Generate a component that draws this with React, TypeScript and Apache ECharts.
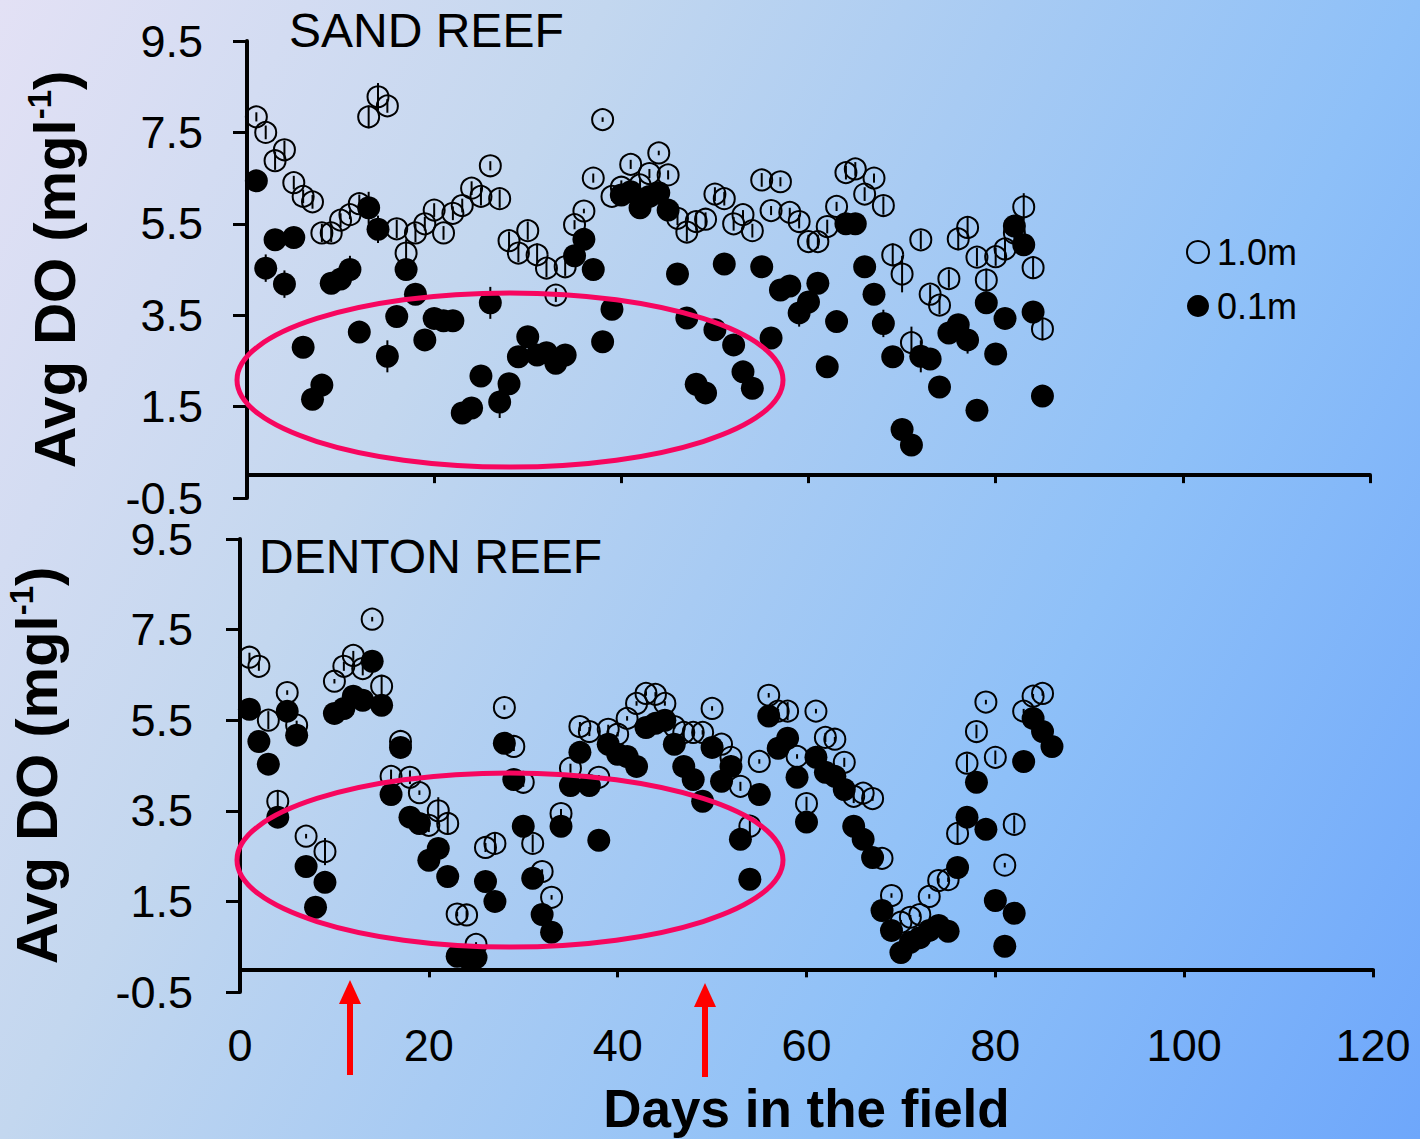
import React, { useEffect, useRef } from "react";
import * as echarts from "echarts";

// ---- Sand Reef: daily average dissolved oxygen (mg/l) ----
const sandDays = [
  1, 2, 3, 4, 5, 6, 7, 8, 9, 10, 11, 12, 13, 14, 15, 16, 17, 18, 19, 20,
  21, 22, 23, 24, 25, 26, 27, 28, 29, 30, 31, 32, 33, 34, 35, 36, 37, 38, 39, 40,
  41, 42, 43, 44, 45, 46, 47, 48, 49, 50, 51, 52, 53, 54, 55, 56, 57, 58, 59, 60,
  61, 62, 63, 64, 65, 66, 67, 68, 69, 70, 71, 72, 73, 74, 75, 76, 77, 78, 79, 80,
  81, 82, 83, 84, 85,
];
const sandDeep = [
  7.84, 7.5, 6.88, 7.12, 6.4, 6.1, 5.98, 5.3, 5.3, 5.58,
  5.7, 5.94, 7.84, 8.28, 8.08, 5.39, 4.86, 5.3, 5.5, 5.8,
  5.3, 5.73, 5.9, 6.28, 6.1, 6.77, 6.05, 5.13, 4.86, 5.35,
  4.82, 4.53, 3.94, 4.56, 5.48, 5.78, 6.5, 7.78, 6.1, 6.3,
  6.8, 6.35, 6.6, 7.05, 6.57, 5.62, 5.32, 5.55, 5.6, 6.15,
  6.05, 5.5, 5.7, 5.35, 6.46, 5.79, 6.42, 5.75, 5.55, 5.11,
  5.11, 5.44, 5.88, 6.62, 6.7, 6.15, 6.5, 5.9, 4.82, 4.4,
  2.9, 5.15, 3.96, 3.72, 4.3, 5.17, 5.42, 4.77, 4.27, 4.78,
  4.95, 5.3, 5.87, 4.54, 3.2,
];
const sandDeepErr = [
  0.1, 0.15, 0.2, 0.2, 0.15, 0.15, 0.15, 0.2, 0.2, 0.15,
  0.1, 0.2, 0.25, 0.3, 0.15, 0.2, 0.3, 0.2, 0.15, 0.15,
  0.15, 0.15, 0.15, 0.15, 0.2, 0.1, 0.2, 0.2, 0.2, 0.2,
  0.25, 0.2, 0.15, 0.2, 0.1, 0.05, 0.1, 0.05, 0.1, 0.15,
  0.1, 0.15, 0.1, 0.05, 0.1, 0.15, 0.2, 0.2, 0.15, 0.15,
  0.15, 0.15, 0.1, 0.15, 0.15, 0.1, 0.1, 0.1, 0.15, 0.15,
  0.15, 0.15, 0.1, 0.15, 0.15, 0.15, 0.1, 0.2, 0.25, 0.4,
  0.35, 0.2, 0.2, 0.2, 0.2, 0.25, 0.25, 0.2, 0.25, 0.2,
  0.25, 0.2, 0.3, 0.25, 0.25,
];
const sandShallow = [
  6.44, 4.53, 5.15, 4.18, 5.2, 2.8, 1.66, 1.97, 4.2, 4.29,
  4.5, 3.13, 5.85, 5.38, 2.6, 3.47, 4.5, 3.96, 2.96, 3.43,
  3.38, 3.38, 1.36, 1.47, 2.17, 3.77, 1.6, 2.0, 2.59, 3.03,
  2.63, 2.68, 2.45, 2.63, 4.8, 5.16, 4.5, 2.92, 3.63, 6.13,
  6.2, 5.85, 6.1, 6.18, 5.8, 4.4, 3.44, 1.99, 1.8, 3.18,
  4.62, 2.85, 2.26, 1.9, 4.56, 3.0, 4.05, 4.14, 3.55, 3.79,
  4.2, 2.37, 3.36, 5.5, 5.5, 4.56, 3.96, 3.32, 2.59, 1.0,
  0.66, 2.6, 2.54, 1.93, 3.11, 3.29, 2.96, 1.42, 3.77, 2.65,
  3.43, 5.45, 5.04, 3.57, 1.73,
];
const sandShallowErr = [
  0.15, 0.3, 0.15, 0.3, 0.15, 0.15, 0.15, 0.15, 0.15, 0.15,
  0.3, 0.15, 0.35, 0.3, 0.35, 0.15, 0.15, 0.15, 0.15, 0.15,
  0.15, 0.15, 0.15, 0.15, 0.15, 0.35, 0.35, 0.15, 0.15, 0.15,
  0.15, 0.15, 0.15, 0.15, 0.15, 0.15, 0.15, 0.15, 0.15, 0.15,
  0.15, 0.15, 0.15, 0.15, 0.15, 0.15, 0.15, 0.15, 0.15, 0.15,
  0.15, 0.15, 0.15, 0.15, 0.15, 0.15, 0.15, 0.15, 0.3, 0.15,
  0.15, 0.15, 0.15, 0.15, 0.15, 0.15, 0.15, 0.3, 0.15, 0.15,
  0.15, 0.35, 0.15, 0.15, 0.15, 0.2, 0.3, 0.15, 0.15, 0.15,
  0.15, 0.15, 0.15, 0.15, 0.15,
];

// ---- Denton Reef: daily average dissolved oxygen (mg/l) ----
const dentonDeepDays = [
  1, 2, 3, 4, 5, 6, 7, 9, 10, 11, 12, 13, 14, 15, 16, 17, 18, 19, 20,
  21, 22, 23, 24, 25, 26, 27, 28, 29, 30, 31, 32, 33, 34, 35, 36, 37, 38, 39, 40,
  41, 42, 43, 44, 45, 46, 47, 48, 49, 50, 51, 52, 53, 54, 55, 56, 57, 58, 59, 60,
  61, 62, 63, 64, 65, 66, 67, 68, 69, 70, 71, 72, 73, 74, 75, 76, 77, 78, 79, 80,
  81, 82, 83, 84, 85,
];
const dentonDeep = [
  6.89, 6.69, 5.5, 3.71, 6.11, 5.39, 2.94, 2.6, 6.36, 6.69, 6.93, 6.64, 7.73, 6.25, 4.26, 5.03, 4.24, 3.9, 3.18,
  3.5, 3.22, 1.22, 1.2, 0.55, 2.69, 2.78, 5.78, 4.92, 4.13, 2.78, 2.16, 1.59, 3.44, 4.44, 5.36, 5.25, 4.24, 5.3, 5.19,
  5.54, 5.87, 6.09, 6.07, 5.87, 5.36, 5.23, 5.23, 5.23, 5.76, 4.97, 4.68, 4.04, 3.16, 4.59, 6.05, 5.7, 5.7, 4.7, 3.66,
  5.7, 5.12, 5.08, 4.57, 3.82, 3.89, 3.77, 2.45, 1.63, 1.04, 1.15, 1.21, 1.61, 1.96, 1.98, 3.0, 4.55, 5.25, 5.9, 4.68,
  2.3, 3.2, 5.7, 6.03, 6.09,
];
const dentonDeepErr = [
  0.1, 0.1, 0.2, 0.25, 0.05, 0.1, 0.05, 0.3, 0.05, 0.1, 0.1, 0.15, 0.05, 0.25, 0.15, 0.1, 0.15, 0.05, 0.15,
  0.3, 0.25, 0.05, 0.1, 0.05, 0.1, 0.25, 0.05, 0.1, 0.1, 0.2, 0.05, 0.05, 0.1, 0.1, 0.1, 0.1, 0.05, 0.1, 0.05,
  0.05, 0.05, 0.05, 0.05, 0.05, 0.05, 0.1, 0.05, 0.05, 0.05, 0.05, 0.05, 0.1, 0.25, 0.05, 0.05, 0.05, 0.2, 0.05, 0.15,
  0.05, 0.1, 0.05, 0.1, 0.15, 0.05, 0.05, 0.05, 0.05, 0.05, 0.05, 0.05, 0.05, 0.05, 0.05, 0.25, 0.2, 0.15, 0.05, 0.15,
  0.05, 0.2, 0.05, 0.05, 0.05,
];
const dentonShallowDays = [
  1, 2, 3, 4, 5, 6, 7, 8, 9, 10, 11, 12, 13, 14, 15, 16, 17, 18, 19, 20,
  21, 22, 23, 24, 25, 26, 27, 28, 29, 30, 31, 32, 33, 34, 35, 36, 37, 38, 39, 40,
  41, 42, 43, 44, 45, 46, 47, 48, 49, 50, 51, 52, 53, 54, 55, 56, 57, 58, 59, 60,
  61, 62, 63, 64, 65, 66, 67, 68, 69, 70, 71, 72, 73, 74, 75, 76, 77, 78, 79, 80,
  81, 82, 83, 84, 85, 86,
];
const dentonShallow = [
  5.74, 5.03, 4.53, 3.36, 5.7, 5.17, 2.27, 1.37, 1.92, 5.65,
  5.76, 6.03, 5.94, 6.8, 5.83, 3.86, 4.9, 3.36, 3.22, 2.41,
  2.67, 2.05, 0.29, 0.26, 0.26, 1.94, 1.5, 4.99, 4.19, 3.16,
  2.01, 1.21, 0.82, 3.16, 4.06, 4.79, 4.06, 2.85, 4.97, 4.75,
  4.7, 4.48, 5.34, 5.43, 5.5, 4.97, 4.48, 4.19, 3.71, 4.9,
  4.15, 4.48, 2.87, 1.99, 3.86, 5.59, 4.88, 5.1, 4.24, 3.25,
  4.68, 4.35, 4.26, 3.97, 3.16, 2.87, 2.47, 1.3, 0.86, 0.37,
  0.6, 0.7, 0.86, 0.97, 0.84, 2.25, 3.36, 4.13, 3.09, 1.52,
  0.51, 1.24, 4.59, 5.54, 5.25, 4.92,
];
const dentonShallowErr = [
  0.15, 0.15, 0.15, 0.15, 0.15, 0.15, 0.15, 0.15, 0.15, 0.15,
  0.15, 0.15, 0.15, 0.15, 0.15, 0.15, 0.15, 0.15, 0.15, 0.15,
  0.15, 0.15, 0.15, 0.15, 0.15, 0.15, 0.15, 0.15, 0.15, 0.15,
  0.15, 0.15, 0.15, 0.15, 0.15, 0.15, 0.15, 0.15, 0.15, 0.15,
  0.15, 0.15, 0.15, 0.15, 0.15, 0.15, 0.15, 0.15, 0.15, 0.15,
  0.15, 0.15, 0.15, 0.15, 0.15, 0.15, 0.15, 0.15, 0.15, 0.15,
  0.15, 0.15, 0.15, 0.15, 0.15, 0.15, 0.15, 0.15, 0.15, 0.15,
  0.15, 0.15, 0.15, 0.15, 0.15, 0.15, 0.15, 0.15, 0.15, 0.15,
  0.15, 0.15, 0.15, 0.15, 0.15, 0.15,
];

// ---- axes ----
const dayTicks = [0, 20, 40, 60, 80, 100, 120];
const doTicks = [-0.5, 1.5, 3.5, 5.5, 7.5, 9.5];

const FONT = "'Liberation Sans', Arial, Helvetica, sans-serif";
const DEEP = "1.0m";
const SHALLOW = "0.1m";

const zip = (xs: number[], ys: number[]) => xs.map((x, i) => [x, ys[i]]);
const zip3 = (xs: number[], ys: number[], es: number[]) => xs.map((x, i) => [x, ys[i], es[i]]);

const errorBars = (name: string, axis: number, data: number[][], z: number) => ({
  type: "custom",
  name,
  xAxisIndex: axis,
  yAxisIndex: axis,
  data,
  z,
  silent: true,
  renderItem: (_params: any, api: any) => {
    const x = api.value(0);
    const y = api.value(1);
    const e = api.value(2);
    const lo = api.coord([x, y - e]);
    const hi = api.coord([x, y + e]);
    return {
      type: "line",
      shape: { x1: lo[0], y1: lo[1], x2: hi[0], y2: hi[1] },
      style: { stroke: "#000", lineWidth: 2 },
    };
  },
});

const openDots = (axis: number, data: number[][]) => ({
  type: "scatter",
  name: DEEP,
  xAxisIndex: axis,
  yAxisIndex: axis,
  data,
  symbol: "circle",
  symbolSize: 21,
  z: 2,
  itemStyle: { color: "rgba(0,0,0,0)", borderColor: "#000", borderWidth: 2, opacity: 1 },
});

const filledDots = (axis: number, data: number[][]) => ({
  type: "scatter",
  name: SHALLOW,
  xAxisIndex: axis,
  yAxisIndex: axis,
  data,
  symbol: "circle",
  symbolSize: 23,
  z: 4,
  itemStyle: { color: "#000", borderColor: "#000", borderWidth: 0, opacity: 1 },
});

const xAxisBase = (grid: number, showLabels: boolean) => ({
  type: "value",
  gridIndex: grid,
  min: dayTicks[0],
  max: dayTicks[dayTicks.length - 1],
  interval: 20,
  axisLine: { show: true, onZero: true, lineStyle: { color: "#000", width: 4 } },
  axisTick: { show: true, inside: false, length: 8, lineStyle: { color: "#000", width: 3 } },
  splitLine: { show: false },
  axisLabel: {
    show: showLabels,
    margin: 31,
    color: "#000",
    fontSize: 45,
    fontFamily: FONT,
  },
});

const yTitle = "{t|Avg DO (mgl}{s|-1}{t|)}";

const yAxisBase = (grid: number, gap: number, labelMargin: number) => ({
  type: "value",
  gridIndex: grid,
  min: doTicks[0],
  max: doTicks[doTicks.length - 1],
  interval: 2,
  axisLine: { show: true, onZero: true, lineStyle: { color: "#000", width: 4 } },
  axisTick: { show: true, inside: false, length: 14, lineStyle: { color: "#000", width: 3 } },
  splitLine: { show: false },
  axisLabel: {
    margin: labelMargin,
    color: "#000",
    fontSize: 45,
    lineHeight: 38,
    fontFamily: FONT,
    formatter: (v: number) => v.toFixed(1),
  },
  name: yTitle,
  nameLocation: "middle",
  nameRotate: 90,
  nameGap: gap,
  nameTextStyle: {
    rich: {
      t: { fontSize: 58, fontWeight: "bold", fontFamily: FONT, color: "#000", lineHeight: 62 },
      s: { fontSize: 33, fontWeight: "bold", fontFamily: FONT, color: "#000", verticalAlign: "top", lineHeight: 62 },
    },
  },
});

export default function App() {
  const ref = useRef<HTMLDivElement>(null);

  useEffect(() => {
    if (!ref.current) return;
    const chart = echarts.init(ref.current, null, { renderer: "svg" });

    const option = {
      animation: false,
      backgroundColor: "transparent",
      title: [
        {
          text: "SAND REEF",
          left: 289,
          top: 6,
          padding: 0,
          textStyle: { fontSize: 48, fontWeight: "normal", fontFamily: FONT, color: "#000" },
        },
        {
          text: "DENTON REEF",
          left: 259,
          top: 532,
          padding: 0,
          textStyle: { fontSize: 48, fontWeight: "normal", fontFamily: FONT, color: "#000" },
        },
      ],
      legend: {
        orient: "vertical",
        left: 1186,
        top: 234,
        itemWidth: 22,
        itemHeight: 22,
        itemGap: 18,
        padding: 0,
        selectedMode: false,
        textStyle: { fontSize: 36, fontFamily: FONT, color: "#000", padding: [0, 0, 0, 3] },
        data: [
          {
            name: DEEP,
            icon: "circle",
            itemStyle: { color: "rgba(0,0,0,0)", borderColor: "#000", borderWidth: 2 },
          },
          { name: SHALLOW, icon: "circle", itemStyle: { color: "#000", borderWidth: 0 } },
        ],
      },
      grid: [
        { left: 247, right: 50, top: 41, bottom: 641, outerBoundsMode: "none", containLabel: false },
        { left: 240, right: 47, top: 539, bottom: 147, outerBoundsMode: "none", containLabel: false },
      ],
      xAxis: [
        xAxisBase(0, false),
        {
          ...xAxisBase(1, true),
          name: "Days in the field",
          nameLocation: "middle",
          nameGap: 92,
          nameTextStyle: { fontSize: 53, lineHeight: 48, fontWeight: "bold", fontFamily: FONT, color: "#000" },
        },
      ],
      yAxis: [yAxisBase(0, 162, 44), yAxisBase(1, 173, 47)],
      series: [
        openDots(0, zip(sandDays, sandDeep)),
        errorBars("1.0m SE sand", 0, zip3(sandDays, sandDeep, sandDeepErr), 3),
        filledDots(0, zip(sandDays, sandShallow)),
        errorBars("0.1m SE sand", 0, zip3(sandDays, sandShallow, sandShallowErr), 5),
        openDots(1, zip(dentonDeepDays, dentonDeep)),
        errorBars("1.0m SE denton", 1, zip3(dentonDeepDays, dentonDeep, dentonDeepErr), 3),
        filledDots(1, zip(dentonShallowDays, dentonShallow)),
        errorBars("0.1m SE denton", 1, zip3(dentonShallowDays, dentonShallow, dentonShallowErr), 5),
      ],
      graphic: [
        // hypoxic periods circled on each panel
        {
          type: "ellipse",
          shape: { cx: 510, cy: 380, rx: 273, ry: 87 },
          style: { fill: "none", stroke: "#f7065f", lineWidth: 5 },
          z: 10,
        },
        {
          type: "ellipse",
          shape: { cx: 510, cy: 860, rx: 273, ry: 87 },
          style: { fill: "none", stroke: "#f7065f", lineWidth: 5 },
          z: 10,
        },
        // event markers under the day axis
        { type: "rect", shape: { x: 347, y: 1000, width: 6, height: 75 }, style: { fill: "#ff0000" }, z: 10 },
        { type: "polygon", shape: { points: [[350, 980], [339, 1004], [361, 1004]] }, style: { fill: "#ff0000" }, z: 10 },
        { type: "rect", shape: { x: 702, y: 1003, width: 6, height: 74 }, style: { fill: "#ff0000" }, z: 10 },
        { type: "polygon", shape: { points: [[705, 983], [694, 1007], [716, 1007]] }, style: { fill: "#ff0000" }, z: 10 },
      ],
    };

    chart.setOption(option as any);
    return () => chart.dispose();
  }, []);

  return (
    <div
      ref={ref}
      style={{
        position: "absolute",
        left: 0,
        top: 0,
        width: 1420,
        height: 1139,
        background:
          "linear-gradient(118deg, #e3e1f5 0%, #c3d7ef 30%, #a8cbf3 50%, #8ec0f8 70%, #6ea7fb 100%)",
      }}
    />
  );
}
